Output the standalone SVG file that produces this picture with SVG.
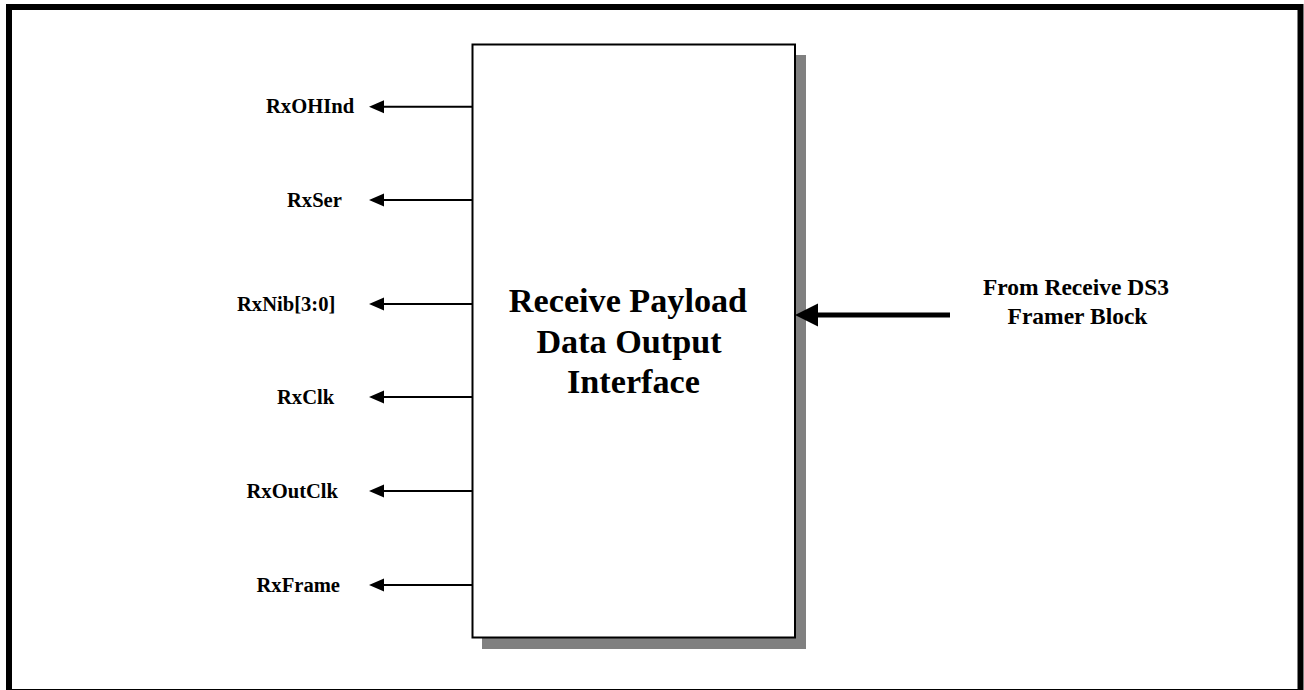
<svg xmlns="http://www.w3.org/2000/svg" width="1304" height="690" viewBox="0 0 1304 690">
<style>
.lbl{font-family:"Liberation Serif","Times New Roman",serif;font-weight:bold;font-size:20.6px;fill:#000}
.title{font-family:"Liberation Serif","Times New Roman",serif;font-weight:bold;font-size:34.2px;fill:#000;text-anchor:middle}
.src{font-family:"Liberation Serif","Times New Roman",serif;font-weight:bold;font-size:23.5px;fill:#000;text-anchor:middle}
.sig{stroke:#000;stroke-width:2;fill:none}
</style>
<rect x="0" y="0" width="1304" height="690" fill="#fff"/>
<rect x="9" y="7" width="1291.5" height="685" fill="none" stroke="#000" stroke-width="6"/>
<g id="block">
<rect x="482" y="55" width="324" height="594" fill="#808080"/>
<rect x="472.5" y="44.5" width="322.5" height="593" fill="#fff" stroke="#000" stroke-width="2"/>
<text class="title" x="628" y="311.5">Receive Payload</text>
<text class="title" x="629" y="352.5">Data Output</text>
<text class="title" x="633.5" y="393">Interface</text>
</g>
<g id="connectors">
<line class="sig" x1="472" y1="106.7" x2="384" y2="106.7"/>
<path d="M369,106.7 L384,100.2 L384,113.2 Z"/>
<line class="sig" x1="472" y1="200" x2="384" y2="200"/>
<path d="M369,200 L384,193.5 L384,206.5 Z"/>
<line class="sig" x1="472" y1="304" x2="384" y2="304"/>
<path d="M369,304 L384,297.5 L384,310.5 Z"/>
<line class="sig" x1="472" y1="397" x2="384" y2="397"/>
<path d="M369,397 L384,390.5 L384,403.5 Z"/>
<line class="sig" x1="472" y1="491" x2="384" y2="491"/>
<path d="M369,491 L384,484.5 L384,497.5 Z"/>
<line class="sig" x1="472" y1="585" x2="384" y2="585"/>
<path d="M369,585 L384,578.5 L384,591.5 Z"/>
<line x1="950" y1="315" x2="816" y2="315" stroke="#000" stroke-width="5"/>
<path d="M795,315 L818,303.5 L818,326.5 Z"/>
</g>
<g id="labels">
<text class="lbl" x="266" y="112.7">RxOHInd</text>
<text class="lbl" x="287" y="206.5">RxSer</text>
<text class="lbl" x="237" y="310.5">RxNib[3:0]</text>
<text class="lbl" x="277" y="403.5">RxClk</text>
<text class="lbl" x="246.5" y="497.5">RxOutClk</text>
<text class="lbl" x="256.5" y="591.5">RxFrame</text>
</g>
<g id="source">
<text class="src" x="1076" y="295">From Receive DS3</text>
<text class="src" x="1077.5" y="323.5">Framer Block</text>
</g>
</svg>
